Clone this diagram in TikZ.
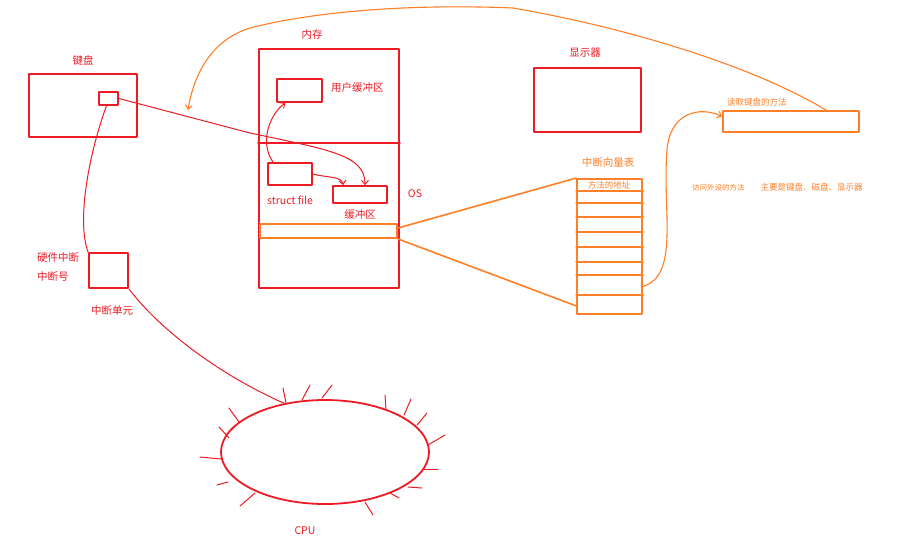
\documentclass[tikz,border=0pt]{standalone}
\usepackage{fontspec}
\setmainfont{Noto Sans CJK SC}
\usetikzlibrary{shapes.geometric,arrows.meta}
\definecolor{pred}{RGB}{237,28,36}
\definecolor{porange}{RGB}{255,127,39}
\begin{document}
\begin{tikzpicture}[x=1pt,y=-1pt,line join=round,line cap=round,>={Straight Barb[length=4pt,width=7pt]},
  redbox/.style={draw=pred,line width=1.8pt,inner sep=0pt},
  orbox/.style={draw=porange,line width=1.8pt,inner sep=0pt},
  redpen/.style={draw=pred,line width=1pt},
  orpen/.style={draw=porange,line width=1.1pt},
  redlbl/.style={text=pred,font=\fontsize{10.5}{12}\selectfont,inner sep=0pt},
  orlbl/.style={text=porange,font=\fontsize{10.5}{12}\selectfont,inner sep=0pt},
  orsmall/.style={text=porange,font=\fontsize{8.5}{10}\selectfont,inner sep=0pt}]
\fill[white] (0,0) rectangle (912,539);
\useasboundingbox (0,0) rectangle (912,539);
% keyboard
\node[redbox,minimum width=108pt,minimum height=63pt] (kbd) at (83,105.5) {};
\node[redbox,minimum width=19pt,minimum height=13pt] (kbdkey) at (108.5,98.5) {};
\node[redlbl] (kbdlbl) at (83,60) {键盘};
% memory
\node[redbox,minimum width=140pt,minimum height=239pt] (mem) at (329,168.5) {};
\node[redlbl] (memlbl) at (312,35) {内存};
\draw[redbox] (mem.west |- 0,143) -- (mem.east |- 0,143);
\node[redbox,minimum width=45pt,minimum height=23pt] (userbuf) at (299.5,90.5) {};
\node[redlbl,anchor=west] (userbuflbl) at (331,88) {用户缓冲区};
\node[redbox,minimum width=44pt,minimum height=22pt] (sfile) at (290,174) {};
\node[redlbl,anchor=west] (sfilelbl) at (267,200) {struct file};
\node[redbox,minimum width=54pt,minimum height=17pt] (kbuf) at (360,194.5) {};
\node[redlbl] (kbuflbl) at (360,215) {缓冲区};
\node[redlbl] (oslbl) at (415,194) {OS};
\node[orbox,minimum width=137pt,minimum height=14pt] (bar) at (328.5,231) {};
% display
\node[redbox,minimum width=107pt,minimum height=64pt] (disp) at (587.5,100) {};
\node[redlbl] (displbl) at (585,53) {显示器};
% interrupt vector table
\node[orbox,minimum width=65pt,minimum height=135pt] (vt) at (609.5,246.5) {};
\foreach \y in {191,203,217,232,247,262,275,295}
  \draw[orpen,line width=1.5pt] (vt.west |- 0,\y) -- (vt.east |- 0,\y);
\node[orlbl] (vtlbl) at (608,163) {中断向量表};
\node[orsmall] (addrlbl) at (609,185) {方法的地址};
\node[orsmall,anchor=west] (devlbl) at (692,187) {{\fontsize{7.5}{9}\selectfont 访问外设的方法}\hspace{16pt}主要是键盘、磁盘、显示器};
\node[orbox,minimum width=136pt,minimum height=21pt] (readkbd) at (791,121.5) {};
\node[orsmall,anchor=west] (readkbdlbl) at (727,102) {读取键盘的方法};
% interrupt unit
\node[redbox,minimum width=39pt,minimum height=35pt] (irq) at (108.5,270.5) {};
\node[redlbl,anchor=west] (hwlbl) at (37,258) {硬件中断};
\node[redlbl,anchor=west] (numlbl) at (37,277) {中断号};
\node[redlbl] (irqlbl) at (112,311) {中断单元};
% cpu
\node[ellipse,draw=pred,line width=1.8pt,minimum width=208pt,minimum height=104pt] (cpu) at (325,452) {};
\node[redlbl] (cpulbl) at (305,531) {CPU};
\foreach \xa/\ya/\xb/\yb in {229/408/239/422,219/427/229/438,200/457/221/459,217/485/228/482,240/506/255/493,
  283/388/286/403,302/400/310/385,322/398/332/385,385/395/386/410,404/415/411/399,417/425/427/413,
  428/445/445/435,424/469/438/469,408/487/422/488,390/493/399/498,365/502/373/515}
  \draw[redpen] (\xa,\ya) -- (\xb,\yb);
% connectors
\coordinate (hook) at (188,110);
\draw[redpen,->] (kbdkey.east) -- (250,133) .. controls (330,150) and (365,155) .. ([xshift=5pt]kbuf.north);
\draw[redpen,->] (sfile.east) .. controls (328,178) and (342,176) .. ([xshift=-17pt]kbuf.north);
\draw[redpen,->] ([xshift=-17pt]sfile.north) .. controls (258,140) and (272,112) .. ([xshift=-14pt]userbuf.south);
\draw[redpen] ([xshift=-2pt]kbdkey.south) .. controls (90,150) and (76,220) .. (irq.north west);
\draw[redpen] (irq.south east) .. controls (160,330) and (220,375) .. (cpu.130);
\draw[orpen,line width=1.6pt] ([yshift=3pt]bar.east) -- (vt.north west);
\draw[orpen,line width=1.6pt] (bar.south east) -- ([yshift=9pt]vt.south west);
\draw[orpen,->] ([yshift=-40pt]vt.east) .. controls (680,275) and (662,210) .. (667,150)
  .. controls (670,112) and (700,106) .. ([yshift=5pt]readkbd.west);
\draw[orpen,->] ([xshift=35pt]readkbd.north) .. controls (760,70) and (640,30) .. (513,8)
  .. controls (420,4) and (320,10) .. (250,28) .. controls (205,42) and (192,85) .. (hook);
\end{tikzpicture}
\end{document}
